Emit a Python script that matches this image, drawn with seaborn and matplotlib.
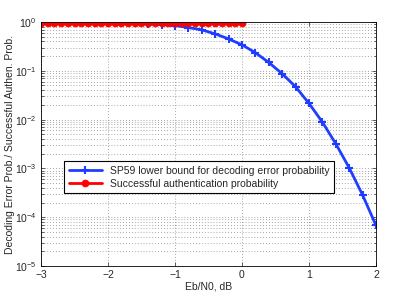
import numpy as np
import pandas as pd
import seaborn as sns
import matplotlib.pyplot as plt
from matplotlib.ticker import LogLocator, NullFormatter, MultipleLocator

ebn0_bound = [-3.0, -2.8, -2.6, -2.4, -2.2, -2.0, -1.8, -1.6, -1.4, -1.2, -1.0,
              -0.8, -0.6, -0.4, -0.2, 0.0, 0.2, 0.4, 0.6, 0.8, 1.0, 1.2, 1.4,
              1.6, 1.8, 2.0]
sp59_bound = [0.99, 0.988, 0.985, 0.98, 0.975, 0.965, 0.955, 0.935, 0.915,
              0.885, 0.845, 0.77, 0.69, 0.57, 0.45, 0.34, 0.235, 0.148, 0.087,
              0.047, 0.0215, 0.0089, 0.0032, 0.00103, 0.000285, 0.000068]

ebn0_auth = [-3.0, -2.9, -2.8, -2.7, -2.6, -2.5, -2.4, -2.3, -2.2, -2.1, -2.0,
             -1.9, -1.8, -1.7, -1.6, -1.5, -1.4, -1.3, -1.2, -1.1, -1.0,
             -0.9, -0.8, -0.7, -0.6, -0.5, -0.4, -0.3, -0.2, -0.1, 0.0]
auth_prob = [0.935] * len(ebn0_auth)

label_bound = 'SP59 lower bound for decoding error probability'
label_auth = 'Successful authentication probability'

sns.set_style('ticks')
plt.rcParams['font.family'] = ['Liberation Sans', 'DejaVu Sans']
plt.rcParams['mathtext.fontset'] = 'custom'
plt.rcParams['mathtext.rm'] = 'Liberation Sans'
plt.rcParams['xtick.direction'] = 'in'
plt.rcParams['ytick.direction'] = 'in'

fig = plt.figure(figsize=(4.15, 3.01), dpi=100)
ax = fig.add_axes([0.0988, 0.116, 0.8072, 0.811])

bound_df = pd.DataFrame({'x': ebn0_bound, 'y': sp59_bound})
auth_df = pd.DataFrame({'x': ebn0_auth, 'y': auth_prob})

blue = '#1f3dff'
red = '#ff0000'
sns.lineplot(data=bound_df, x='x', y='y', ax=ax, color=blue, lw=2,
             marker='+', markersize=6, markeredgewidth=1.5,
             markeredgecolor=blue, label=label_bound)
sns.lineplot(data=auth_df, x='x', y='y', ax=ax, color=red, lw=2,
             marker='o', markersize=5, markeredgewidth=0.5,
             markeredgecolor=red, markerfacecolor=red, label=label_auth)

ax.set_yscale('log')
ax.set_xlim(-3, 2)
ax.set_ylim(1e-5, 1)
ax.xaxis.set_major_locator(MultipleLocator(1))
ax.yaxis.set_major_locator(LogLocator(base=10, numticks=10))
ax.yaxis.set_minor_locator(LogLocator(base=10, subs=np.arange(2, 10), numticks=10))
ax.yaxis.set_minor_formatter(NullFormatter())

grid_kw = dict(color='#8a8a8a', ls=(0, (1, 2.5)), lw=0.6)
ax.grid(True, which='major', axis='both', **grid_kw)
ax.grid(True, which='minor', axis='y', **grid_kw)
ax.set_axisbelow(True)

for s in ax.spines.values():
    s.set_visible(True)
    s.set_linewidth(0.6)
    s.set_color('black')
ax.tick_params(which='both', top=True, right=True, labelsize=7.5,
               width=0.5, length=3, pad=3)
ax.tick_params(which='minor', length=1.8)

ax.set_xlabel('Eb/N0, dB', fontsize=7.5, labelpad=1)
ax.set_ylabel('Decoding Error Prob./ Successful Authen. Prob.', fontsize=7.5)
ax.yaxis.set_label_coords(-0.078, 0.5)

leg = ax.legend(loc='lower left', bbox_to_anchor=(0.07, 0.30), fontsize=7.5,
                frameon=True, fancybox=False, handlelength=3.2,
                borderpad=0.4, labelspacing=0.3, borderaxespad=0)
leg.get_frame().set_edgecolor('black')
leg.get_frame().set_linewidth(0.8)
leg.get_frame().set_alpha(1)

fig.savefig('out.png', dpi=100)
